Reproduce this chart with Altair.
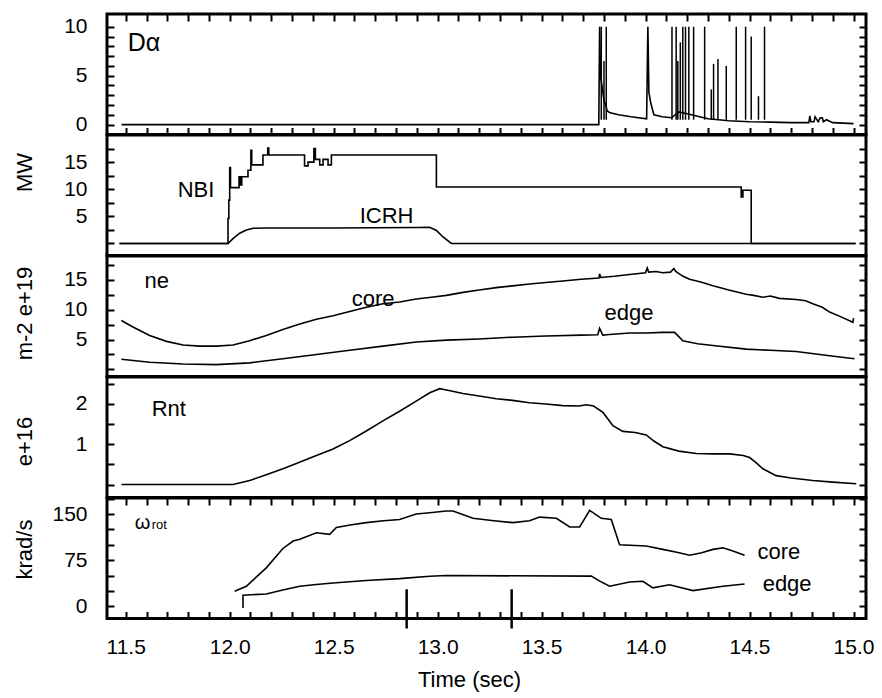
import altair as alt
import pandas as pd

FONT = "Liberation Sans"
XDOM = [11.41, 15.06]
W = 759
H = 120.4
TL = 7  # tick length in px (inward), drawn as dashed grid ends

# ---------------- Panel 1 : D-alpha ----------------
da_t = [11.48, 13.775, 13.779, 13.783, 13.79, 13.80, 13.811, 13.815, 13.83, 13.87, 13.93,
        14.005, 14.011, 14.016, 14.025, 14.04, 14.08, 14.125, 14.16, 14.2, 14.24, 14.3, 14.4,
        14.5, 14.6, 14.7, 14.785, 14.79, 14.795, 14.81, 14.815, 14.83, 14.84, 14.85, 14.855,
        14.87, 14.9, 14.95, 15.0]
da_v = [0.0, 0.0, 10, 5.0, 4.0, 2.5, 1.8, 1.4, 1.2, 1.0, 0.8,
        0.6, 10, 3.3, 2.2, 1.0, 0.8, 0.7, 1.3, 1.1, 0.9, 0.6, 0.4,
        0.3, 0.25, 0.2, 0.2, 0.9, 0.3, 0.3, 0.8, 0.3, 0.7, 0.7, 0.3,
        0.5, 0.2, 0.15, 0.1]
elm_t = [13.787, 13.80, 13.811, 14.127, 14.147, 14.155, 14.167, 14.179, 14.192, 14.208,
         14.231, 14.284, 14.316, 14.327, 14.348, 14.388, 14.436, 14.481, 14.508, 14.543, 14.572]
elm_peak = [10, 6.5, 10, 10, 10, 6.5, 8.4, 10, 10, 10,
            10, 10, 3.6, 6.2, 6.7, 6.0, 10, 10, 9.0, 2.9, 10]
elm_base = 0.5

# ---------------- Panel 2 : heating power (MW) ----------------
nbi_t = [11.47, 11.992, 11.996, 12.0, 12.004, 12.045, 12.052, 12.058, 12.088, 12.102, 12.106,
         12.16, 12.183, 12.188, 12.36, 12.377, 12.405, 12.412, 12.433, 12.449, 12.473, 12.489,
         12.994, 14.46, 14.468, 14.508, 15.01]
nbi_v = [0, 4.6, 8.0, 14.0, 10.3, 12.3, 10.8, 12.3, 13.5, 17.2, 14.5,
         16.3, 17.6, 16.3, 14.3, 15.0, 17.5, 15.5, 14.5, 15.5, 14.5, 16.3,
         10.4, 8.6, 9.8, 0, 0]
icrh_t = [11.47, 11.992, 12.016, 12.048, 12.08, 12.112, 12.176, 12.5, 12.9, 12.962, 12.994,
          13.026, 13.066, 15.01]
icrh_v = [0, 0, 0.9, 1.9, 2.5, 2.8, 2.85, 2.85, 2.95, 3.0, 2.4, 1.2, 0, 0]

# ---------------- Panel 3 : density (m-2 e+19) ----------------
ne_core_t = [11.479, 11.535, 11.615, 11.696, 11.776, 11.856, 11.936, 12.016, 12.096, 12.176,
             12.256, 12.337, 12.417, 12.497, 12.577, 12.657, 12.737, 12.817, 12.897, 12.97,
             13.042, 13.122, 13.2, 13.282, 13.36, 13.442, 13.52, 13.602, 13.69, 13.776, 13.779,
             13.785, 13.85, 13.923, 14.0, 14.008, 14.015, 14.05, 14.083, 14.12, 14.136, 14.145,
             14.18, 14.212, 14.27, 14.324, 14.4, 14.484, 14.52, 14.564, 14.6, 14.644, 14.724,
             14.77, 14.804, 14.85, 14.885, 14.94, 14.997, 15.0]
ne_core_v = [8.2, 7.1, 5.7, 4.7, 4.1, 3.9, 3.9, 4.1, 4.8, 5.7,
             6.7, 7.6, 8.4, 9.0, 9.7, 10.4, 11.0, 11.3, 11.8, 12.1,
             12.4, 12.9, 13.3, 13.7, 14.0, 14.3, 14.55, 14.8, 15.1, 15.3, 16.0,
             15.4, 15.6, 15.9, 16.2, 17.0, 16.3, 16.4, 16.2, 16.3, 16.9, 16.4,
             15.6, 15.1, 14.6, 14.0, 13.3, 12.6, 12.4, 12.1, 12.3, 11.9, 11.7,
             11.5, 11.0, 10.4, 9.6, 8.8, 7.9, 8.6]
ne_edge_t = [11.479, 11.615, 11.776, 11.936, 12.096, 12.256, 12.417, 12.577, 12.737, 12.897,
             13.042, 13.2, 13.36, 13.52, 13.69, 13.77, 13.779, 13.787, 13.795, 13.811, 13.923,
             14.003, 14.083, 14.139, 14.16, 14.179, 14.25, 14.324, 14.484, 14.6, 14.724, 14.885,
             15.005]
ne_edge_v = [1.7, 1.2, 0.9, 0.8, 1.1, 1.8, 2.5, 3.2, 3.9, 4.6,
             4.9, 5.1, 5.4, 5.6, 5.75, 5.8, 6.9, 6.3, 5.7, 5.8, 6.1,
             6.1, 6.2, 6.2, 5.5, 4.8, 4.3, 4.0, 3.4, 3.2, 3.0, 2.3,
             1.8]

# ---------------- Panel 4 : neutron rate (e+16) ----------------
rnt_t = [11.48, 12.016, 12.096, 12.176, 12.256, 12.336, 12.417, 12.497, 12.577, 12.657, 12.737,
         12.817, 12.897, 12.962, 13.01, 13.06, 13.122, 13.2, 13.282, 13.36, 13.442, 13.52,
         13.602, 13.68, 13.715, 13.75, 13.795, 13.843, 13.891, 13.95, 14.003, 14.04, 14.083,
         14.16, 14.244, 14.33, 14.404, 14.47, 14.5, 14.53, 14.564, 14.628, 14.7, 14.804, 14.9,
         15.013]
rnt_v = [0, 0, 0.1, 0.24, 0.39, 0.55, 0.72, 0.88, 1.09, 1.33, 1.58,
         1.82, 2.07, 2.28, 2.38, 2.33, 2.26, 2.20, 2.13, 2.09, 2.03, 2.0,
         1.96, 1.95, 1.98, 1.95, 1.79, 1.46, 1.32, 1.29, 1.23, 1.08, 0.94,
         0.83, 0.77, 0.76, 0.76, 0.72, 0.67, 0.55, 0.39, 0.22, 0.16, 0.10, 0.06,
         0.02]

# ---------------- Panel 5 : rotation (krad/s) ----------------
rot_core_t = [12.024, 12.08, 12.176, 12.256, 12.305, 12.337, 12.417, 12.481, 12.513, 12.58,
              12.657, 12.74, 12.817, 12.897, 12.962, 13.042, 13.074, 13.17, 13.27, 13.362,
              13.442, 13.49, 13.571, 13.635, 13.683, 13.731, 13.787, 13.835, 13.875, 14.003,
              14.083, 14.15, 14.212, 14.27, 14.324, 14.372, 14.42, 14.476]
rot_core_v = [24.5, 32.6, 62.5, 94, 106, 109, 119.6, 117, 128, 132,
              136, 139, 141, 150, 152, 155, 155, 143, 139, 136,
              139, 145, 143, 129, 129, 156, 143, 141, 100, 98,
              92.5, 88, 83, 87, 92.5, 95, 90, 83]
rot_edge_t = [12.064, 12.064, 12.176, 12.25, 12.337, 12.417, 12.497, 12.657, 12.817, 12.962,
              13.042, 13.739, 13.78, 13.827, 13.923, 13.987, 14.035, 14.115, 14.228, 14.372,
              14.476]
rot_edge_v = [-2.7, 18, 20, 26, 32.6, 35.5, 38, 42, 45, 49,
              50, 49, 41, 32.6, 39.6, 40.8, 30, 35, 25.6, 32.6,
              36.4]
marker_t = [12.851, 13.356]
marker_lo = [-36, -36]
marker_hi = [27.7, 27.7]

# ---------------- axis ticks / labels ----------------
x_major = [11.5, 12.0, 12.5, 13.0, 13.5, 14.0, 14.5, 15.0]
x_ticks = [round(11.5 + 0.1 * i, 1) for i in range(36)]
p1_ticks, p1_labels = list(range(0, 11)), [0, 5, 10]
p2_ticks, p2_labels = [0, 2.5, 5, 7.5, 10, 12.5, 15, 17.5], [5, 10, 15]
p3_ticks, p3_labels = [0, 2.5, 5, 7.5, 10, 12.5, 15, 17.5], [5, 10, 15]
p4_ticks, p4_labels = [0, 0.5, 1, 1.5, 2, 2.5], [1, 2]
p5_ticks, p5_labels = [0, 25, 50, 75, 100, 125, 150, 175], [0, 75, 150]

# ---------------- annotations ----------------
p1_txt, p1_txt_t, p1_txt_v, p1_txt_s = ["Dα"], [11.51], [7.5], [25]
p2_txt, p2_txt_t, p2_txt_v, p2_txt_s = ["NBI", "ICRH"], [11.75, 12.625], [8.5, 3.7], [22, 22]
p3_txt, p3_txt_t, p3_txt_v, p3_txt_s = ["ne", "core", "edge"], [11.59, 12.587, 13.803], [13.7, 10.7, 8.2], [22, 22, 22]
p4_txt, p4_txt_t, p4_txt_v, p4_txt_s = ["Rnt"], [11.625], [1.70], [22]
p5_txt, p5_txt_t, p5_txt_v, p5_txt_s = (["ω", "rot", "core", "edge"], [11.543, 11.625, 14.538, 14.563],
                                        [125.6, 125.6, 76.7, 24.5], [20, 13, 22, 22])

# grid lines dashed so that only a short piece at each end of the panel shows: inward ticks
YDASH = [TL, W - 2 * TL, TL]
XDASH = [TL, round(H - 2 * TL, 1), TL]
GRID = dict(grid=True, gridColor="black", gridWidth=2, gridOpacity=1)


def df(t, v):
    return pd.DataFrame({"t": t, "v": v, "i": list(range(len(t)))})


def left_axis(ticks, labels, title=None, title_y=None):
    kw = dict(values=ticks,
              labelExpr=f"indexof({labels}, datum.value) >= 0 ? format(datum.value, '~g') : ''",
              ticks=False, offset=0, labelPadding=20, labelFontSize=21,
              labelOverlap=False, domain=False, gridDash=YDASH, **GRID)
    if title is None:
        kw["title"] = None
    else:
        kw.update(title=title, titleX=-76, titleY=title_y, titleAngle=270,
                  titleBaseline="alphabetic", titleFontSize=22)
    return alt.Axis(**kw)


def top_axis():
    return alt.Axis(orient="top", values=x_ticks, labels=False, ticks=False, domain=False,
                    title=None, gridDash=XDASH, **GRID)


def bottom_axis():
    return alt.Axis(orient="bottom", values=x_ticks,
                    labelExpr="indexof(%s, datum.value) >= 0 ? format(datum.value, '.1f') : ''" % x_major,
                    ticks=False, offset=0,
                    labelPadding=18, labelFontSize=21, labelOverlap=False, labelFlush=False,
                    title="Time (sec)", titleFontSize=22, titleX=362, titleY=68,
                    titleBaseline="alphabetic", domain=False, gridDash=XDASH, **GRID)


class Panel:
    """Holds the shared scales/axes of one panel so every layer agrees on them."""

    def __init__(self, dom, yaxis, xaxis=None):
        self.dom, self.yaxis, self.xaxis = dom, yaxis, xaxis
        self.layers = []

    def x(self, field="t"):
        return alt.X(f"{field}:Q", scale=alt.Scale(domain=XDOM, nice=False, zero=False),
                     axis=self.xaxis)

    def y(self, field="v"):
        return alt.Y(f"{field}:Q", scale=alt.Scale(domain=self.dom, nice=False, zero=False),
                     axis=self.yaxis)

    def line(self, t, v, interp="linear", sw=1.6):
        self.layers.append(alt.Chart(df(t, v)).mark_line(
            color="black", strokeWidth=sw, interpolate=interp).encode(
            x=self.x(), y=self.y(), order=alt.Order("i:Q")))

    def rules(self, t, lo, hi, sw):
        d = pd.DataFrame({"t": t, "v": lo, "v2": hi})
        self.layers.append(alt.Chart(d).mark_rule(color="black", strokeWidth=sw).encode(
            x=self.x(), y=self.y(), y2="v2:Q"))

    def texts(self, txt, t, v, s):
        d = pd.DataFrame({"txt": txt, "t": t, "v": v, "s": s})
        self.layers.append(alt.Chart(d).mark_text(
            align="left", baseline="alphabetic", color="black", font=FONT).encode(
            x=self.x(), y=self.y(), text="txt:N", size=alt.Size("s:Q", scale=None)))

    def chart(self):
        return alt.layer(*self.layers).properties(width=W, height=H)


D1 = [-1.0, 11.3]
D2 = [-2.2, 20.0]
D3 = [-1.17, 19.0]
D4 = [-0.32, 2.67]
D5 = [-19.6, 176.0]

p1 = Panel(D1, left_axis(p1_ticks, p1_labels), top_axis())
p1.line(da_t, da_v)
p1.rules(elm_t, [elm_base] * len(elm_t), elm_peak, 1.5)
p1.texts(p1_txt, p1_txt_t, p1_txt_v, p1_txt_s)

p2 = Panel(D2, left_axis(p2_ticks, p2_labels, "MW", 37))
p2.line(nbi_t, nbi_v, interp="step-after")
p2.line(icrh_t, icrh_v)
p2.texts(p2_txt, p2_txt_t, p2_txt_v, p2_txt_s)

p3 = Panel(D3, left_axis(p3_ticks, p3_labels, "m-2 e+19", 57))
p3.line(ne_core_t, ne_core_v)
p3.line(ne_edge_t, ne_edge_v)
p3.texts(p3_txt, p3_txt_t, p3_txt_v, p3_txt_s)

p4 = Panel(D4, left_axis(p4_ticks, p4_labels, "e+16", 64))
p4.line(rnt_t, rnt_v)
p4.texts(p4_txt, p4_txt_t, p4_txt_v, p4_txt_s)

p5 = Panel(D5, left_axis(p5_ticks, p5_labels, "krad/s", 51), bottom_axis())
p5.line(rot_core_t, rot_core_v)
p5.line(rot_edge_t, rot_edge_v)
p5.rules(marker_t, marker_lo, marker_hi, 2.5)
p5.texts(p5_txt, p5_txt_t, p5_txt_v, p5_txt_s)

chart = alt.vconcat(p1.chart(), p2.chart(), p3.chart(), p4.chart(), p5.chart(),
                    spacing=0, bounds="flush").properties(
    padding={"left": 11, "top": 12, "right": 5, "bottom": 0},
    background="white",
).configure_view(
    stroke="black", strokeWidth=3
).configure_axis(
    labelFont=FONT, titleFont=FONT, labelColor="black", titleColor="black",
    titleFontWeight="normal"
).configure_text(font=FONT)

chart.save("out.html", embed_options={"renderer": "svg", "actions": False})
